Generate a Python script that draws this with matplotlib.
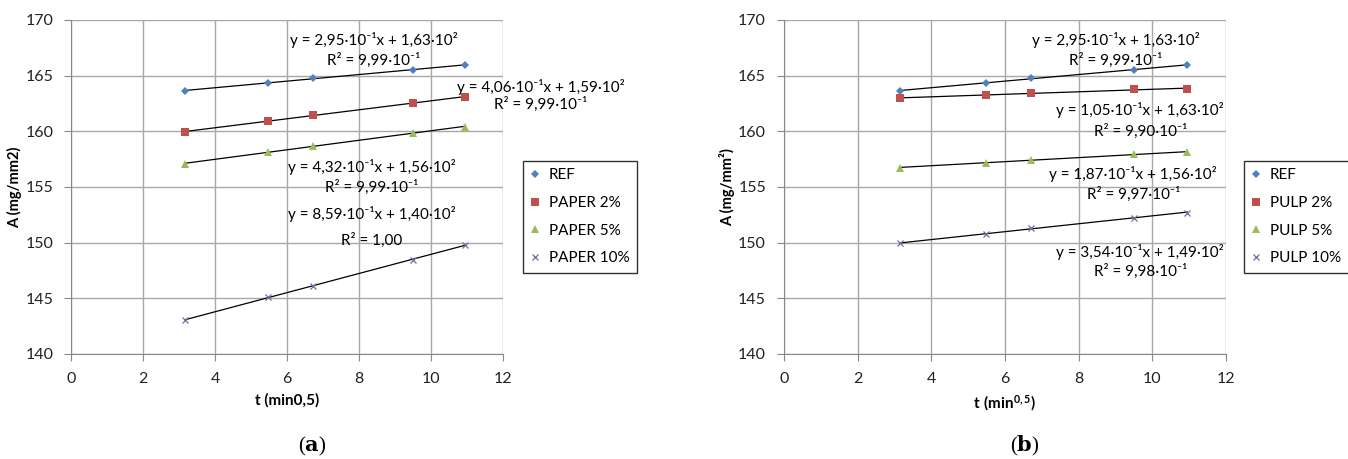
import numpy as np
import matplotlib.pyplot as plt

plt.rcParams['font.family'] = ['Lato', 'DejaVu Sans']
plt.rcParams['mathtext.fontset'] = 'custom'
plt.rcParams['mathtext.rm'] = 'Lato'
plt.rcParams['mathtext.bf'] = 'Lato:bold'

t = [3.16, 5.48, 6.71, 9.49, 10.95]

ref = [163.65, 164.35, 164.75, 165.55, 165.95]
paper2 = [159.94, 160.96, 161.44, 162.52, 163.11]
paper5 = [157.10, 158.12, 158.69, 159.85, 160.42]
paper10 = [143.03, 145.16, 146.11, 148.45, 149.80]
pulp2 = [163.00, 163.24, 163.42, 163.78, 163.83]
pulp5 = [156.74, 157.19, 157.40, 157.97, 158.12]
pulp10 = [149.94, 150.81, 151.29, 152.25, 152.70]

eq_a = [("y = 2,95·10⁻¹x + 1,63·10²", "R² = 9,99·10⁻¹"),
        ("y = 4,06·10⁻¹x + 1,59·10²", "R² = 9,99·10⁻¹"),
        ("y = 4,32·10⁻¹x + 1,56·10²", "R² = 9,99·10⁻¹"),
        ("y = 8,59·10⁻¹x + 1,40·10²", "R² = 1,00")]
eq_b = [("y = 2,95·10⁻¹x + 1,63·10²", "R² = 9,99·10⁻¹"),
        ("y = 1,05·10⁻¹x + 1,63·10²", "R² = 9,90·10⁻¹"),
        ("y = 1,87·10⁻¹x + 1,56·10²", "R² = 9,97·10⁻¹"),
        ("y = 3,54·10⁻¹x + 1,49·10²", "R² = 9,98·10⁻¹")]

# label placement: (x centre, y of equation line, y of R² line) in data units
pos_a = [(8.4, 168.2, 166.4), (13.05, 164.0, 162.4),
         (8.35, 156.8, 155.0), (8.35, 152.6, 150.2)]
pos_b = [(9.0, 168.2, 166.4), (9.67, 161.9, 160.0),
         (9.48, 156.2, 154.3), (9.67, 149.2, 147.4)]

colors = ['#4F81BD', '#C0504D', '#9BBB59', '#8064A2']
markers = ['D', 's', '^', 'x']
msizes = [4, 6, 5.5, 5]


def panel(ax, series, labels, eqs, pos, xlabel, ylabel, leg_x):
    for ys, lab, c, m, ms in zip(series, labels, colors, markers, msizes):
        ax.plot(t, ys, linestyle='none', marker=m, color=c, ms=ms,
                mew=0.9 if m == 'x' else 0, label=lab, zorder=3)
        k, b = np.polyfit(t, ys, 1)
        xx = np.array([min(t), max(t)])
        ax.plot(xx, k * xx + b, color='black', lw=0.9, zorder=2)
    for (l1, l2), (x, y1, y2) in zip(eqs, pos):
        ax.text(x, y1, l1, ha='center', va='center', fontsize=11, clip_on=False)
        ax.text(x, y2, l2, ha='center', va='center', fontsize=11, clip_on=False)
    ax.set_xlim(0, 12)
    ax.set_ylim(140, 170)
    ax.set_xticks(range(0, 13, 2))
    ax.set_yticks(range(140, 171, 5))
    ax.grid(True, color='#A8A8A8', lw=1)
    ax.set_axisbelow(True)
    for s in ['top', 'right']:
        ax.spines[s].set_visible(False)
    for s in ['left', 'bottom']:
        ax.spines[s].set_color('#888888')
    ax.tick_params(colors='#888888', labelcolor='#222222', labelsize=11.5,
                   length=5, pad=8)
    ax.set_xlabel(xlabel, fontsize=11, fontweight='bold', labelpad=5)
    ax.set_ylabel(ylabel, fontsize=10.5, fontweight='bold', labelpad=2)
    ax.legend(loc='upper left', bbox_to_anchor=(leg_x, 0.579), fontsize=11,
              frameon=True, fancybox=False, edgecolor='black', handlelength=0.6,
              handletextpad=0.6, borderpad=0.5, labelspacing=0.9,
              borderaxespad=0)


fig = plt.figure(figsize=(13.48, 4.59), dpi=100)
ax1 = fig.add_axes([0.0529, 0.2288, 0.3203, 0.7277])
ax2 = fig.add_axes([0.5816, 0.2288, 0.3279, 0.7277])

panel(ax1, [ref, paper2, paper5, paper10],
      ['REF', 'PAPER 2%', 'PAPER 5%', 'PAPER 10%'], eq_a, pos_a,
      't (min0,5)', 'A (mg/mm2)', 1.0456)
panel(ax2, [ref, pulp2, pulp5, pulp10],
      ['REF', 'PULP 2%', 'PULP 5%', 'PULP 10%'], eq_b, pos_b,
      r'$\mathbf{t\ (min^{0,5})}$', 'A (mg/mm²)', 1.0407)

# sub-figure captions: plain parentheses, bold letter
for cx, letter in [(312, 'a'), (1025, 'b')]:
    fig.text(cx / 1348, 1 - 446 / 459, r'($\mathbf{' + letter + '}$)',
             ha='center', va='center', fontsize=15, family='Liberation Serif',
             math_fontfamily='dejavuserif')

fig.savefig('out.png', dpi=100)
